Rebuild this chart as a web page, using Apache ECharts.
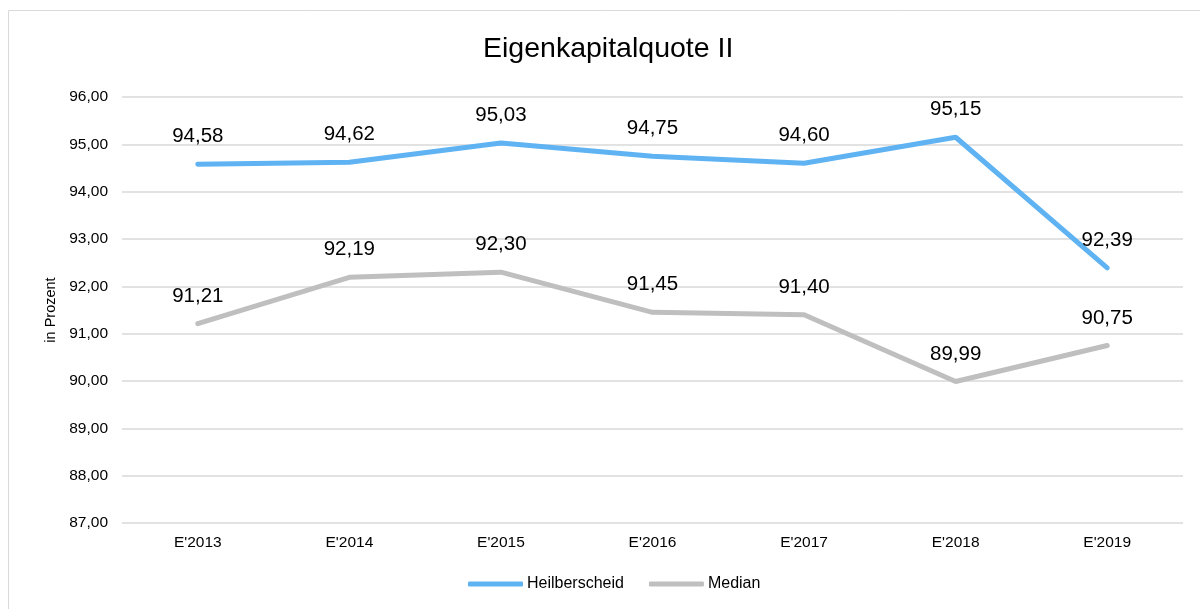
<!DOCTYPE html>
<html><head><meta charset="utf-8">
<script src="https://cdn.jsdelivr.net/npm/echarts@6/dist/echarts.min.js"></script>
<style>html,body{margin:0;padding:0;background:#fff}#c{width:1200px;height:609px}</style>
</head><body><div id="c"></div>
<script>
const categories = ["E'2013","E'2014","E'2015","E'2016","E'2017","E'2018","E'2019"];
const heilberscheid = [94.58, 94.62, 95.03, 94.75, 94.60, 95.15, 92.39];
const median = [91.21, 92.19, 92.30, 91.45, 91.40, 89.99, 90.75];
const seriesNames = ["Heilberscheid", "Median"];
const fmt = v => v.toFixed(2).replace('.', ',');
const chart = echarts.init(document.getElementById('c'));
const font = 'Liberation Sans, Arial, sans-serif';
const lbl = {show:true, position:'top', distance:17, fontFamily:font, fontSize:20.5, color:'#000', formatter:p=>fmt(p.value)};
chart.setOption({
  animation: false,
  graphic: [{type:'rect', shape:{x:8.5,y:10.5,width:1300,height:700}, style:{fill:'none', stroke:'#d9d9d9', lineWidth:1}}],
  title: {text:'Eigenkapitalquote II', left:478, top:30, textStyle:{fontFamily:font, fontSize:28.5, fontWeight:'normal', color:'#000'}},
  grid: {left:122, right:17, top:97, bottom:86},
  legend: {bottom:12, left:463, itemWidth:55, itemHeight:5, itemGap:25, icon:'roundRect',
    textStyle:{fontFamily:font, fontSize:16, color:'#000', padding:[0,0,0,-1]}, data: seriesNames},
  xAxis: {type:'category', data:categories, boundaryGap:true,
    axisLine:{show:false}, axisTick:{show:false},
    axisLabel:{fontFamily:font, fontSize:15.5, color:'#000', margin:12}},
  yAxis: {type:'value', min:87, max:96, interval:1, name:'in Prozent', nameLocation:'middle', nameGap:63, nameRotate:90,
    nameTextStyle:{fontFamily:font, fontSize:14.5, color:'#000'},
    axisLine:{show:false}, axisTick:{show:false},
    axisLabel:{fontFamily:font, fontSize:15.5, color:'#000', margin:14, formatter: v => fmt(v)},
    splitLine:{lineStyle:{color:'#d9d9d9', width:1.5}}},
  series: [
    {name:seriesNames[0], type:'line', data:heilberscheid, symbol:'circle', symbolSize:0.1, showSymbol:true,
     lineStyle:{color:'#5fb3f3', width:5, cap:'round'}, itemStyle:{color:'#5fb3f3'}, label:lbl},
    {name:seriesNames[1], type:'line', data:median, symbol:'circle', symbolSize:0.1, showSymbol:true,
     lineStyle:{color:'#bfbfbf', width:5, cap:'round'}, itemStyle:{color:'#bfbfbf'}, label:lbl}
  ]
});
</script></body></html>
